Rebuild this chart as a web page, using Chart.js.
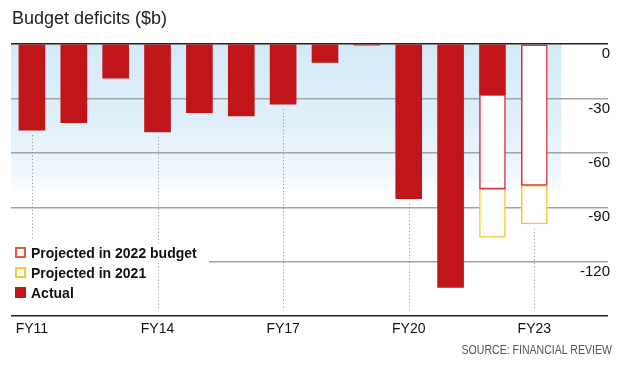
<!DOCTYPE html>
<html><head><meta charset="utf-8">
<script src="https://cdn.jsdelivr.net/npm/chart.js@4"></script>
<style>
html,body{margin:0;padding:0;background:#fff;}
#wrap{position:relative;width:620px;height:366px;font-family:'Liberation Sans',Arial,sans-serif;overflow:hidden;}
#title{position:absolute;left:12px;top:9px;font-size:18px;line-height:18px;color:#222;white-space:nowrap;}
#source{position:absolute;right:8px;top:343px;font-size:12px;line-height:14px;color:#555;transform:scaleX(0.88);transform-origin:right center;white-space:nowrap;}
canvas{position:absolute;left:0;top:0;}
#legend{position:absolute;left:0;top:240px;width:150px;height:73px;background:#fff;}
.row{position:absolute;left:0;height:20px;line-height:20px;font-weight:bold;font-size:14px;color:#111;background:#fff;padding-right:12px;white-space:nowrap;}
.sw{position:absolute;left:15px;top:4.5px;width:11px;height:11px;box-sizing:border-box;}
.t{margin-left:31px;}
</style>
</head><body>
<div id="wrap">
  <canvas id="c" width="620" height="366"></canvas>
  <div id="title">Budget deficits ($b)</div>
  <div id="legend">
    <div class="row" style="top:2.7px"><div class="sw" style="border:2px solid #e8553f;background:#fff"></div><span class="t">Projected in 2022 budget</span></div>
    <div class="row" style="top:22.7px"><div class="sw" style="border:2px solid #fcc531;background:#fff"></div><span class="t">Projected in 2021</span></div>
    <div class="row" style="top:42.7px"><div class="sw" style="background:#c0161a"></div><span class="t">Actual</span></div>
  </div>
  <div id="source">SOURCE: FINANCIAL REVIEW</div>
</div>
<script>
const categories = ['FY11','FY12','FY13','FY14','FY15','FY16','FY17','FY18','FY19','FY20','FY21','FY22','FY23'];
const actual        = [-47.5,-43.4,-18.8,-48.5,-37.9,-39.6,-33.2,-10.1,-0.7,-85.3,-134.2,-27.9,null];
const projected2022 = [null,null,null,null,null,null,null,null,null,null,null,-79.8,-77.9];
const projected2021 = [null,null,null,null,null,null,null,null,null,null,null,-106.6,-99.1];
const yTickValues = [0,-30,-60,-90,-120];
const xTickLabels = ['FY11','FY14','FY17','FY20','FY23'];

const actualData = [], proj22Data = [], proj21Data = [];
categories.forEach((c,i)=>{
  if (actual[i] !== null) actualData.push({x:i, y:actual[i]});
  if (projected2022[i] !== null) proj22Data.push({x:i, y:[actual[i] !== null ? actual[i] : 0, projected2022[i]]});
  if (projected2021[i] !== null) proj21Data.push({x:i, y:[projected2022[i], projected2021[i]]});
});

const bandPlugin = {
  id:'band',
  beforeDraw(chart){
    const {ctx, chartArea:a, scales:{x,y}} = chart;
    const left = a.left;
    const right = x.getPixelForValue(categories.length-1) + 27;
    const top = y.getPixelForValue(0);
    const bottom = y.getPixelForValue(-84);
    const g = ctx.createLinearGradient(0,top,0,bottom);
    g.addColorStop(0,'rgba(212,234,247,1)');
    g.addColorStop(0.55,'rgba(224,240,250,1)');
    g.addColorStop(0.85,'rgba(236,246,252,0.8)');
    g.addColorStop(1,'rgba(245,250,253,0)');
    ctx.save(); ctx.fillStyle = g; ctx.fillRect(left,top,right-left,bottom-top); ctx.restore();
  }
};

const dotPlugin = {
  id:'dots',
  afterDatasetsDraw(chart){
    const {ctx, chartArea:a, scales:{x,y}} = chart;
    ctx.save();
    ctx.strokeStyle = '#8a8a8a'; ctx.lineWidth = 1; ctx.setLineDash([1,2.4]);
    xTickLabels.forEach(l=>{
      const i = categories.indexOf(l);
      const vals = [actual[i], projected2022[i], projected2021[i]].filter(v=>v!==null);
      const low = Math.min(...vals);
      const px = Math.round(x.getPixelForValue(i)) + 0.5;
      ctx.beginPath();
      ctx.moveTo(px, y.getPixelForValue(low) + 5);
      ctx.lineTo(px, a.bottom - 6);
      ctx.stroke();
    });
    ctx.restore();
  }
};

new Chart(document.getElementById('c'), {
  type:'bar',
  data:{
    datasets:[
      {label:'Actual', data:actualData, backgroundColor:'#c0161a', borderWidth:0, order:1, grouped:false, barThickness:26},
      {label:'Projected in 2022 budget', data:proj22Data, backgroundColor:'#ffffff', borderColor:'#d9303a', borderWidth:1.5, borderSkipped:false, order:2, grouped:false, barThickness:26},
      {label:'Projected in 2021', data:proj21Data, backgroundColor:'#ffffff', borderColor:'#fcc531', borderWidth:1.5, borderSkipped:false, order:3, grouped:false, barThickness:26}
    ]
  },
  options:{
    responsive:false, animation:false, devicePixelRatio:1,
    layout:{padding:{top:44, left:11, right:8, bottom:23}},
    plugins:{legend:{display:false}, tooltip:{enabled:false}, title:{display:false}},
    scales:{
      x:{
        type:'linear', min:-0.5, max:13.76, offset:false,
        grid:{display:false, drawTicks:false}, border:{display:false},
        afterBuildTicks: s => { s.ticks = xTickLabels.map(l=>({value:categories.indexOf(l)})); },
        ticks:{callback: v => categories[v], color:'#111', font:{family:"'Liberation Sans', Arial, sans-serif", size:14}, padding:5, maxRotation:0, autoSkip:false}
      },
      y:{
        position:'right', min:-150, max:0,
        afterBuildTicks: s => { s.ticks = [...yTickValues, -150].map(v=>({value:v})); },
        grid:{drawTicks:false, lineWidth:1.5, color: ctx => (ctx.tick && (ctx.tick.value === 0 || ctx.tick.value === -150)) ? '#222' : '#a3a3a3'},
        border:{display:false},
        ticks:{mirror:true, padding:2, labelOffset:10, color:'#111', font:{family:"'Liberation Sans', Arial, sans-serif", size:15},
          callback: v => yTickValues.includes(v) ? String(v) : ''}
      }
    }
  },
  plugins:[bandPlugin, dotPlugin]
});
</script>
</body></html>
